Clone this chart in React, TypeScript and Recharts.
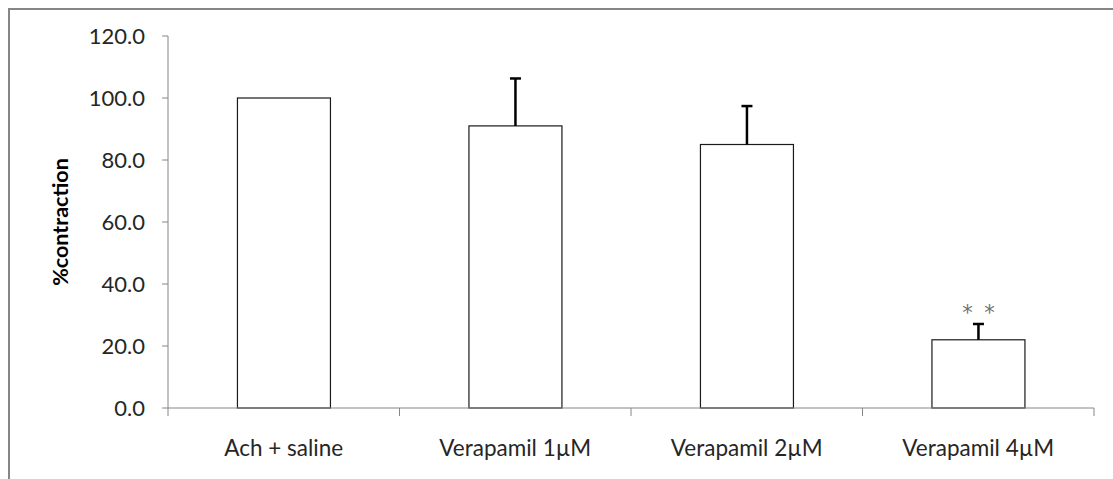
import React from 'react';
import { BarChart, Bar, XAxis, YAxis } from 'recharts';

const categories = ['Ach + saline', 'Verapamil 1µM', 'Verapamil 2µM', 'Verapamil 4µM'];
const means = [100, 91, 85, 22];
const errors = [0, 15.3, 12.4, 5.1];
const significance = ['', '', '', '**'];
const yTicks = [0, 20, 40, 60, 80, 100, 120];

const data = categories.map((name, i) => ({
  name,
  value: means[i],
  err: errors[i],
  sig: significance[i],
}));

const W = 1113;
const H = 479;
const PLOT_LEFT = 168;
const PLOT_RIGHT = 1094;
const PLOT_TOP = 36;
const PLOT_BOTTOM = 408;
const Y_AXIS_W = 60;
const X_AXIS_H = 40;
const BAND = (PLOT_RIGHT - PLOT_LEFT) / categories.length;
const AXIS_COLOR = '#868686';
const FONT = 'Lato, "Open Sans", sans-serif';

const XTick = (props: any) => {
  const { x, payload, index } = props;
  const left = x - BAND / 2;
  const right = x + BAND / 2;
  return (
    <g>
      <line x1={left} x2={left} y1={PLOT_BOTTOM} y2={PLOT_BOTTOM + 8} stroke={AXIS_COLOR} strokeWidth={1} />
      {index === categories.length - 1 && (
        <line x1={right} x2={right} y1={PLOT_BOTTOM} y2={PLOT_BOTTOM + 8} stroke={AXIS_COLOR} strokeWidth={1} />
      )}
      <text x={x} y={PLOT_BOTTOM + 39} textAnchor="middle" dominantBaseline="central" fill="#262626" fontSize={22.5} fontFamily={FONT}>
        {payload.value}
      </text>
    </g>
  );
};

const BarShape = (props: any) => {
  const { x, y, width, height, payload } = props;
  const cx = x + width / 2;
  const pxPerUnit = payload.value ? height / payload.value : 0;
  const errTop = y - payload.err * pxPerUnit;
  return (
    <g>
      <rect x={x} y={y} width={width} height={height} fill="#ffffff" stroke="#1a1a1a" strokeWidth={1.2} />
      {payload.err > 0 && (
        <g stroke="#000" strokeWidth={2.5}>
          <line x1={cx} x2={cx} y1={y} y2={errTop} />
          <line x1={cx - 5.5} x2={cx + 5.5} y1={errTop} y2={errTop} />
        </g>
      )}
      {payload.sig && (
        <g fill="#707070" fontSize={21} fontFamily='"DejaVu Sans", sans-serif'>
          <text x={cx - 11} y={errTop - 4} textAnchor="middle">*</text>
          <text x={cx + 11} y={errTop - 4} textAnchor="middle">*</text>
        </g>
      )}
    </g>
  );
};

const YLabel = (props: any) => {
  const vb = props.viewBox || { x: PLOT_LEFT - Y_AXIS_W, y: PLOT_TOP, width: Y_AXIS_W, height: PLOT_BOTTOM - PLOT_TOP };
  const lx = vb.x - 48;
  const ly = vb.y + vb.height / 2;
  return (
    <text x={lx} y={ly} transform={`rotate(-90 ${lx} ${ly})`} textAnchor="middle" dominantBaseline="central" fill="#000" fontSize={21.5} fontWeight="bold" fontFamily={FONT}>
      %contraction
    </text>
  );
};

export default function App() {
  return (
    <div style={{ position: 'absolute', left: 0, top: 0, width: W, height: H, background: '#fff', overflow: 'hidden' }}>
      <div
        style={{
          position: 'absolute',
          left: 8,
          top: 8,
          width: W - 8,
          height: H - 8,
          boxSizing: 'border-box',
          borderLeft: `2px solid ${AXIS_COLOR}`,
          borderTop: `2px solid ${AXIS_COLOR}`,
        }}
      />
      <div style={{ position: 'absolute', left: 0, top: 0 }}>
        <BarChart
          width={W}
          height={H}
          data={data}
          margin={{ top: PLOT_TOP, right: W - PLOT_RIGHT, bottom: H - PLOT_BOTTOM - X_AXIS_H, left: PLOT_LEFT - Y_AXIS_W }}
          barCategoryGap="30%"
        >
          <XAxis
            dataKey="name"
            height={X_AXIS_H}
            axisLine={{ stroke: AXIS_COLOR, strokeWidth: 1 }}
            tickLine={false}
            tick={<XTick />}
            interval={0}
          />
          <YAxis
            width={Y_AXIS_W}
            domain={[0, 120]}
            ticks={yTicks}
            tickFormatter={(v: number) => v.toFixed(1)}
            axisLine={{ stroke: AXIS_COLOR, strokeWidth: 1 }}
            tickLine={{ stroke: AXIS_COLOR, strokeWidth: 1 }}
            tickSize={6}
            tickMargin={17}
            tick={{ fill: '#262626', fontSize: 22, fontFamily: FONT }}
            label={YLabel}
          />
          <Bar dataKey="value" shape={<BarShape />} isAnimationActive={false} />
        </BarChart>
      </div>
    </div>
  );
}
